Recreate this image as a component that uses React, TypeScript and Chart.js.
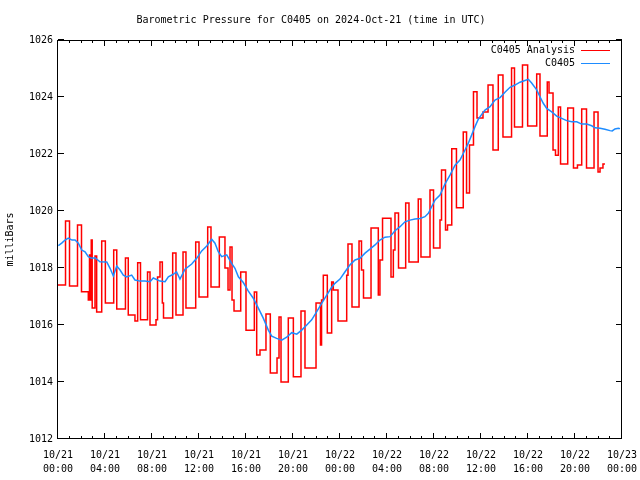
import React, { useEffect, useRef } from 'react';
import { Chart, registerables } from 'chart.js';

Chart.register(...registerables);

const chartTitle = 'Barometric Pressure for C0405 on 2024-Oct-21 (time in UTC)';
const yAxisLabel = 'milliBars';
const xTickDates = ['10/21', '10/21', '10/21', '10/21', '10/21', '10/21', '10/22', '10/22', '10/22', '10/22', '10/22', '10/22', '10/23'];
const xTickTimes = ['00:00', '04:00', '08:00', '12:00', '16:00', '20:00', '00:00', '04:00', '08:00', '12:00', '16:00', '20:00', '00:00'];
const yTickValues = [1012, 1014, 1016, 1018, 1020, 1022, 1024, 1026];

const analysisLabel = 'C0405 Analysis';
const obsLabel = 'C0405';

// hours since 10/21 00:00 UTC; each value holds until the next time
const analysisHours = [0, 0.64, 0.98, 1.66, 2.0, 2.58, 2.68, 2.77, 2.83, 2.91, 3.15, 3.29, 3.72, 4.03, 4.74, 5.0, 5.74, 5.98, 6.55, 6.78, 7.02, 7.62, 7.83, 8.34, 8.47, 8.68, 8.88, 8.98, 9.76, 10.04, 10.64, 10.89, 11.72, 12.0, 12.74, 13.02, 13.73, 14.21, 14.47, 14.64, 14.81, 14.98, 15.55, 16.0, 16.71, 16.91, 17.19, 17.7, 18.07, 18.64, 18.81, 18.98, 19.6, 20.03, 20.68, 21.02, 21.96, 22.34, 22.43, 22.58, 22.92, 23.29, 23.43, 23.83, 24.57, 24.68, 25.02, 25.62, 25.83, 26.0, 26.64, 27.26, 27.4, 27.62, 28.34, 28.54, 28.68, 28.98, 29.59, 29.87, 30.66, 30.89, 31.66, 31.96, 32.51, 32.64, 32.98, 33.15, 33.51, 33.91, 34.49, 34.77, 35.02, 35.36, 35.66, 36.17, 36.6, 37.02, 37.47, 37.87, 38.6, 38.85, 39.53, 39.97, 40.74, 41.02, 41.64, 41.79, 42.13, 42.34, 42.58, 42.77, 43.38, 43.87, 44.21, 44.57, 44.98, 45.62, 45.96, 46.13, 46.38, 46.55];
const analysisValues = [1017.40, 1019.65, 1017.37, 1019.51, 1017.17, 1016.88, 1018.46, 1016.88, 1018.98, 1016.60, 1018.42, 1016.46, 1018.95, 1016.77, 1018.63, 1016.56, 1018.35, 1016.35, 1016.14, 1018.18, 1016.18, 1017.86, 1016.00, 1016.18, 1017.68, 1018.21, 1016.77, 1016.25, 1018.53, 1016.35, 1018.56, 1016.60, 1018.91, 1016.98, 1019.44, 1017.33, 1019.09, 1018.00, 1017.23, 1018.74, 1016.88, 1016.49, 1017.86, 1015.82, 1017.16, 1014.95, 1015.12, 1016.39, 1014.32, 1014.84, 1016.28, 1014.00, 1016.25, 1014.18, 1016.49, 1014.49, 1016.77, 1015.30, 1016.88, 1017.75, 1015.72, 1017.51, 1017.23, 1016.14, 1017.75, 1018.84, 1016.63, 1018.95, 1017.93, 1016.95, 1019.40, 1017.05, 1018.28, 1019.75, 1017.68, 1018.63, 1019.93, 1018.00, 1020.28, 1018.21, 1020.42, 1018.39, 1020.74, 1018.70, 1019.68, 1021.44, 1019.33, 1019.51, 1022.18, 1020.11, 1022.77, 1020.63, 1022.32, 1024.18, 1023.26, 1023.47, 1024.42, 1022.14, 1024.77, 1022.60, 1025.02, 1022.95, 1025.12, 1022.98, 1024.81, 1022.63, 1024.53, 1024.14, 1022.14, 1021.96, 1023.65, 1021.65, 1023.61, 1021.51, 1021.61, 1023.58, 1021.51, 1023.47, 1021.37, 1021.51, 1021.65, 1021.65];

const obsHours = [0.03, 0.34, 0.6, 0.88, 1.19, 1.45, 1.73, 2.02, 2.3, 2.58, 2.87, 3.15, 3.57, 4.15, 4.43, 4.71, 5.0, 5.28, 5.56, 5.85, 6.27, 6.55, 6.98, 7.4, 7.83, 8.11, 8.68, 9.11, 9.39, 9.81, 10.09, 10.38, 10.81, 11.38, 11.8, 12.23, 12.66, 13.08, 13.36, 13.64, 13.93, 14.36, 14.78, 15.06, 15.35, 15.77, 16.2, 16.62, 17.05, 17.47, 17.9, 18.19, 18.61, 19.04, 19.46, 19.89, 20.32, 20.74, 21.17, 21.59, 22.02, 22.44, 22.87, 23.23, 23.57, 24.0, 24.43, 24.85, 25.28, 25.7, 26.13, 26.55, 26.98, 27.4, 27.83, 28.26, 28.68, 29.11, 29.53, 29.96, 30.38, 30.81, 31.23, 31.52, 31.8, 32.09, 32.51, 32.94, 33.36, 33.79, 34.21, 34.64, 34.92, 35.21, 35.49, 35.77, 36.06, 36.34, 36.77, 37.19, 37.62, 38.04, 38.47, 38.89, 39.32, 39.74, 40.03, 40.31, 40.74, 41.02, 41.3, 41.59, 42.02, 42.44, 42.87, 43.29, 43.72, 44.15, 44.57, 45.0, 45.42, 45.7, 46.13, 46.55, 46.98, 47.17, 47.4, 47.69, 47.83];
const obsValues = [1018.78, 1018.88, 1018.98, 1019.05, 1018.98, 1018.98, 1018.87, 1018.63, 1018.57, 1018.40, 1018.34, 1018.36, 1018.22, 1018.21, 1017.99, 1017.72, 1018.07, 1017.93, 1017.75, 1017.69, 1017.75, 1017.58, 1017.54, 1017.54, 1017.52, 1017.65, 1017.54, 1017.52, 1017.69, 1017.78, 1017.86, 1017.61, 1017.96, 1018.14, 1018.34, 1018.60, 1018.77, 1019.01, 1018.87, 1018.57, 1018.40, 1018.46, 1018.16, 1017.99, 1017.69, 1017.49, 1017.19, 1016.94, 1016.59, 1016.24, 1015.82, 1015.61, 1015.53, 1015.47, 1015.57, 1015.73, 1015.68, 1015.82, 1016.00, 1016.18, 1016.47, 1016.76, 1017.05, 1017.29, 1017.46, 1017.61, 1017.87, 1018.11, 1018.28, 1018.34, 1018.52, 1018.66, 1018.81, 1018.98, 1019.08, 1019.10, 1019.31, 1019.45, 1019.62, 1019.68, 1019.72, 1019.74, 1019.80, 1019.92, 1020.15, 1020.39, 1020.56, 1020.95, 1021.26, 1021.61, 1021.79, 1022.14, 1022.38, 1022.67, 1022.96, 1023.22, 1023.39, 1023.54, 1023.66, 1023.89, 1023.98, 1024.17, 1024.34, 1024.42, 1024.52, 1024.58, 1024.62, 1024.49, 1024.25, 1024.01, 1023.78, 1023.60, 1023.48, 1023.33, 1023.25, 1023.17, 1023.13, 1023.13, 1023.05, 1023.05, 1022.99, 1022.92, 1022.90, 1022.87, 1022.82, 1022.81, 1022.88, 1022.90, 1022.89];

const FONT = "'DejaVu Sans Mono', 'Liberation Mono', monospace";

const framePlugin = {
  id: 'gnuFrame',
  afterDatasetsDraw(chart: any) {
    const { ctx, chartArea: a, scales } = chart;
    ctx.save();
    ctx.strokeStyle = '#000';
    ctx.lineWidth = 1;
    ctx.beginPath();
    ctx.rect(Math.round(a.left) - 0.5, Math.round(a.top) + 0.5, Math.round(a.right - a.left), Math.round(a.bottom - a.top) - 1);
    ctx.stroke();
    ctx.beginPath();
    const xs = scales.x;
    for (let h = 0; h <= 48; h++) {
      const px = Math.round(xs.getPixelForValue(h)) - 0.5;
      const len = h % 4 === 0 ? 6 : 3;
      ctx.moveTo(px, a.bottom);
      ctx.lineTo(px, a.bottom - len);
      ctx.moveTo(px, a.top);
      ctx.lineTo(px, a.top + len);
    }
    const ys = scales.y;
    yTickValues.forEach((v) => {
      const py = Math.round(ys.getPixelForValue(v)) - 0.5;
      ctx.moveTo(a.left, py);
      ctx.lineTo(a.left + 6, py);
      ctx.moveTo(a.right, py);
      ctx.lineTo(a.right - 6, py);
    });
    ctx.stroke();
    ctx.restore();
  },
  afterDraw(chart: any) {
    const { ctx, chartArea: a } = chart;
    ctx.save();
    ctx.font = `10px ${FONT}`;
    ctx.textAlign = 'right';
    ctx.textBaseline = 'middle';
    chart.data.datasets.forEach((ds: any, i: number) => {
      const y = Math.round(a.top + 10 + i * 13);
      ctx.fillStyle = '#000';
      ctx.fillText(ds.label, a.right - 47, y);
      ctx.strokeStyle = ds.borderColor;
      ctx.lineWidth = 1;
      ctx.beginPath();
      ctx.moveTo(a.right - 41, y + 0.5);
      ctx.lineTo(a.right - 12, y + 0.5);
      ctx.stroke();
    });
    ctx.restore();
  },
};

export default function App() {
  const canvasRef = useRef<HTMLCanvasElement | null>(null);

  useEffect(() => {
    if (!canvasRef.current) return;
    document.body.style.margin = '0';
    document.body.style.background = '#fff';
    const analysisData = analysisHours.map((h, i) => ({ x: h, y: analysisValues[i] }));
    const obsData = obsHours.map((h, i) => ({ x: h, y: obsValues[i] }));

    const chart = new Chart(canvasRef.current, {
      type: 'line',
      data: {
        datasets: [
          {
            label: analysisLabel,
            data: analysisData,
            borderColor: '#ff0000',
            borderWidth: 1.5,
            pointRadius: 0,
            stepped: true,
            fill: false,
            order: 1,
          },
          {
            label: obsLabel,
            data: obsData,
            borderColor: '#1e8cff',
            borderWidth: 1.5,
            pointRadius: 0,
            fill: false,
            tension: 0,
            order: 0,
          },
        ],
      },
      options: {
        animation: false,
        responsive: false,
        devicePixelRatio: 1,
        layout: { padding: { left: 0, right: 18, top: 0, bottom: 0 } },
        plugins: {
          legend: { display: false },
          tooltip: { enabled: false },
          title: {
            display: true,
            text: chartTitle,
            color: '#000',
            font: { family: FONT, size: 10, weight: 'normal', lineHeight: 1.2 },
            padding: { top: 14, bottom: 14 },
          },
        },
        scales: {
          x: {
            type: 'linear',
            min: 0,
            max: 48,
            grid: { display: false, drawTicks: false, tickLength: 0 },
            border: { display: false },
            afterFit: (s: any) => { s.height = 41; s.paddingLeft = 0; s.paddingRight = 0; },
            ticks: {
              stepSize: 4,
              autoSkip: false,
              maxRotation: 0,
              padding: 10,
              color: '#000',
              font: { family: FONT, size: 10, lineHeight: 1.35 },
              callback: (v: any) => {
                const i = Math.round(Number(v) / 4);
                return [xTickDates[i], xTickTimes[i]];
              },
            },
          },
          y: {
            type: 'linear',
            min: 1012,
            max: 1026,
            grid: { display: false, drawTicks: false, tickLength: 0 },
            border: { display: false },
            afterFit: (s: any) => { s.width = 58; s.paddingTop = 0; s.paddingBottom = 0; },
            title: {
              display: true,
              text: yAxisLabel,
              color: '#000',
              font: { family: FONT, size: 10 },
              padding: { top: 4, bottom: 0 },
            },
            ticks: {
              stepSize: 2,
              padding: 5,
              color: '#000',
              font: { family: FONT, size: 10 },
              callback: (v: any) => String(v),
            },
          },
        },
      },
      plugins: [framePlugin],
    });
    return () => chart.destroy();
  }, []);

  return (
    <div style={{ position: 'absolute', left: 0, top: 0, width: 640, height: 480, background: '#fff' }}>
      <canvas ref={canvasRef} width={640} height={480} />
    </div>
  );
}
